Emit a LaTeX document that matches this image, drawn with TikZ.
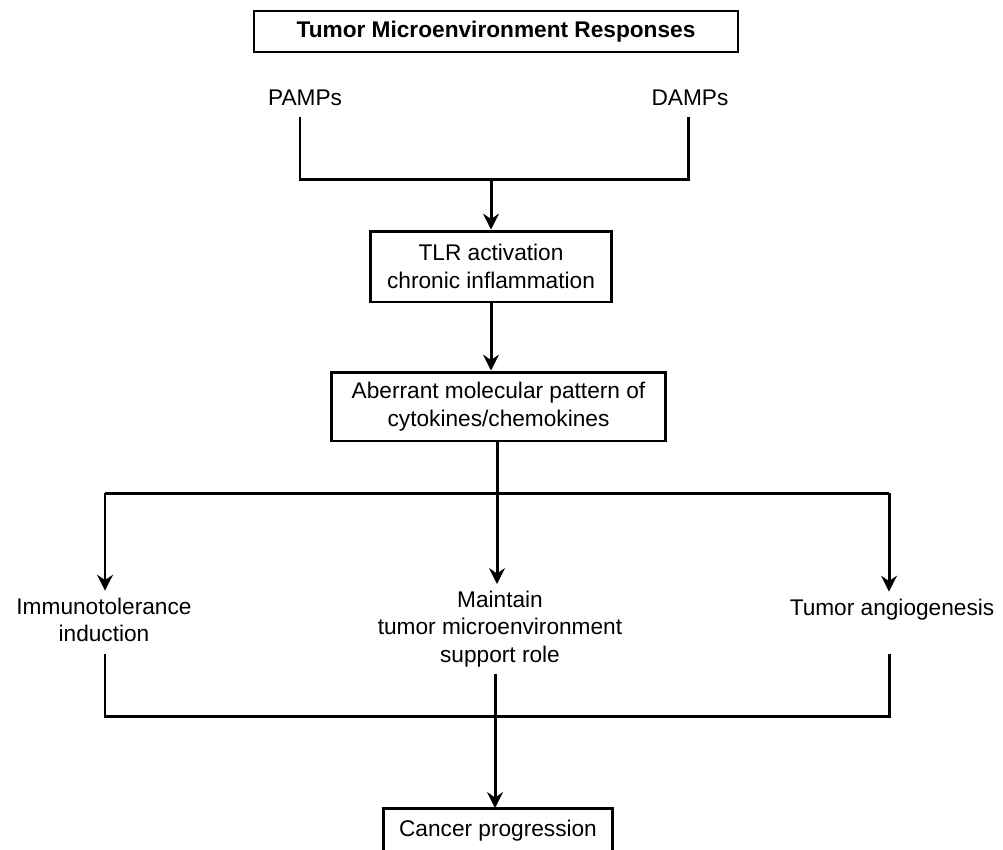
\documentclass[tikz,border=0pt]{standalone}
\usepackage{fontspec}
\setmainfont{Liberation Sans}
\usetikzlibrary{arrows.meta, positioning}

\begin{document}
\begin{tikzpicture}[x=0.02cm,y=-0.02cm,line width=1.7pt,
  >={Stealth[length=9pt,width=9pt,inset=3pt]},
  txt/.style={align=center,font=\fontsize{12.9}{15.6}\selectfont},
  box/.style={txt,draw,line width=1.7pt,inner sep=2pt}]
\useasboundingbox (0,0) rectangle (1003,849);
\clip (0,0) rectangle (1003,849);
% Title
\node[txt,draw,line width=0.9pt,minimum width=9.68cm,minimum height=0.82cm,font=\fontsize{12.9}{15.6}\selectfont\bfseries] (title) at (496,31.5) {Tumor Microenvironment Responses};
% Patterns
\node[txt,anchor=base] (pamps) at (305,105) {PAMPs};
\node[txt,anchor=base] (damps) at (690,105) {DAMPs};
\coordinate (pj) at (300,179);
\coordinate (dj) at (688,179);
% Boxes
\node[box,minimum width=4.84cm,minimum height=1.42cm] (tlr) at (491,266.5) {TLR activation\\chronic inflammation};
\node[box,minimum width=6.7cm,minimum height=1.38cm] (aber) at (498.5,406.5) {Aberrant molecular pattern of\\cytokines/chemokines};
% Responses
\coordinate (sl) at (105,493);
\coordinate (sr) at (889,493);
\node[txt] (imm) at (104,620) {Immunotolerance\\induction};
\node[txt] (maint) at (500,629) {Maintain\\tumor microenvironment\\support role};
\node[txt] (tum) at (892,609.5) {Tumor angiogenesis};
% Outcome
\coordinate (jl) at (105,716);
\coordinate (jr) at (889,716);
\node[box,minimum width=4.6cm,minimum height=0.92cm] (canc) at (498,831) {Cancer progression};
% Connectors
\draw ([yshift=-2.3pt]pamps.south -| pj) -- (pj) -- (dj) -- ([yshift=-2.3pt]damps.south -| dj);
\draw[->] (tlr.north |- pj) -- (tlr.north);
\draw[->] (tlr.south) -- (tlr.south |- aber.north);
\draw (aber.south -| 497,0) -- (497,493);
\draw (sl) -- (sr);
\draw[->] (sl) -- (sl |- imm.north);
\draw[->] (497,493) -- (497,584);
\draw[->] (sr) -- (sr |- tum.north);
\draw ([yshift=-2.8pt]imm.south -| jl) -- (jl) -- (jr) -- ([yshift=-2.8pt]imm.south -| jr);
\draw[->] (maint.south -| 495,0) -- (495,808);
\end{tikzpicture}
\end{document}
